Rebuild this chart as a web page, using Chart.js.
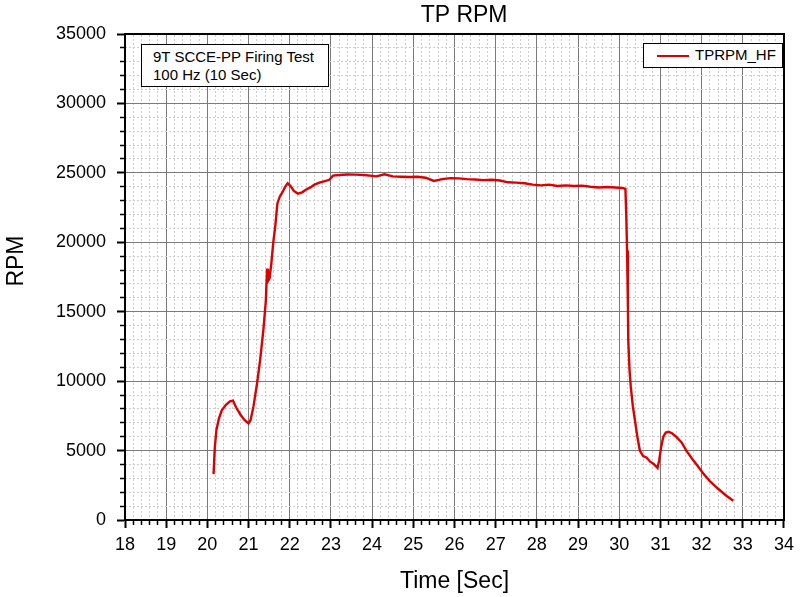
<!DOCTYPE html>
<html>
<head>
<meta charset="utf-8">
<script src="https://cdn.jsdelivr.net/npm/chart.js@4"></script>
<style>
body { margin: 0; background: #fff; }
#wrap { position: relative; width: 800px; height: 597px; font-family: "Liberation Sans", Arial, sans-serif; }
.box { position: absolute; background: #fff; border: 1px solid #000; font-size: 15px; color: #000; box-sizing: border-box; }
#note { left: 141px; top: 44px; width: 188px; height: 43px; padding: 3px 0 0 11px; line-height: 18px; }
#legend { left: 643px; top: 43px; width: 140px; height: 25px; }
#legend .swatch { position: absolute; left: 13px; top: 11px; width: 32px; height: 2px; background: rgb(220, 0, 0); }
#legend .txt { position: absolute; left: 51px; top: 2px; line-height: 18px; }
</style>
</head>
<body>
<div id="wrap">
<canvas id="rpmChart" width="800" height="597"></canvas>
<div class="box" id="note">9T SCCE-PP Firing Test<br>100 Hz (10 Sec)</div>
<div class="box" id="legend"><span class="swatch"></span><span class="txt">TPRPM_HF</span></div>
</div>
<script>
const timeSec = [
    20.15, 20.18, 20.22, 20.28, 20.35, 20.45, 20.55, 20.62, 20.70, 20.80,
    20.90, 21.00, 21.05, 21.12, 21.20, 21.28, 21.36, 21.42, 21.45, 21.47,
    21.51, 21.55, 21.60, 21.65, 21.70, 21.76, 21.83, 21.90, 21.95, 22.02,
    22.10, 22.20, 22.30, 22.40, 22.50, 22.60, 22.72, 22.85, 22.96, 23.05,
    23.2, 23.4, 23.6, 23.8, 24.0, 24.1, 24.3, 24.5, 24.7, 24.9,
    25.1, 25.3, 25.5, 25.7, 25.9, 26.1, 26.3, 26.5, 26.7, 26.9,
    27.1, 27.3, 27.5, 27.7, 27.9, 28.1, 28.3, 28.5, 28.7, 28.9,
    29.1, 29.3, 29.5, 29.7, 29.9, 30.1, 30.15, 30.17, 30.19, 30.21,
    30.22, 30.25, 30.28, 30.33, 30.38, 30.44, 30.50, 30.58, 30.66, 30.75,
    30.83, 30.90, 30.93, 30.97, 31.02, 31.07, 31.13, 31.20, 31.28, 31.38,
    31.51, 31.63, 31.76, 31.90, 32.04, 32.20, 32.40, 32.60, 32.77
];
const tprpmHF = [
    3300, 5200, 6500, 7300, 7900, 8300, 8550, 8600, 8100, 7600,
    7200, 6950, 7200, 8200, 9700, 11500, 13700, 15800, 18100, 17200,
    17400, 18400, 20000, 21200, 22800, 23300, 23650, 24050, 24250, 24050,
    23700, 23500, 23600, 23800, 23950, 24150, 24300, 24400, 24500, 24800,
    24850, 24880, 24870, 24850, 24780, 24750, 24900, 24750, 24720, 24700,
    24720, 24650, 24420, 24550, 24620, 24600, 24550, 24520, 24480, 24500,
    24450, 24320, 24300, 24250, 24150, 24100, 24150, 24050, 24100, 24050,
    24080, 24000, 23950, 23980, 23950, 23900, 23850, 22000, 19400, 15500,
    12900, 10800, 9600, 8200, 7200, 6000, 5000, 4600, 4500, 4200,
    4050, 3850, 3750, 4300, 5300, 6000, 6300, 6350, 6250, 6000,
    5600, 5000, 4450, 3900, 3350, 2800, 2250, 1750, 1380
];
const xMajor = 1, xMinor = 0.2;
const yMajor = 5000, yMinor = 1000;

Chart.defaults.font.family = '"Liberation Sans", Arial, sans-serif';
Chart.defaults.color = '#000';

function onStep(v, step) {
    return Math.abs(v / step - Math.round(v / step)) < 1e-6;
}

const majorGrid = '#7a7a7a';
const minorGrid = '#cdcdcd';
const points = timeSec.map((t, i) => ({ x: t, y: tprpmHF[i] }));

new Chart(document.getElementById('rpmChart'), {
    type: 'line',
    data: {
        datasets: [{
            label: 'TPRPM_HF',
            data: points,
            borderColor: 'rgb(220, 0, 0)',
            borderWidth: 2.4,
            pointRadius: 0,
            tension: 0,
            fill: false
        }]
    },
    options: {
        responsive: false,
        animation: false,
        layout: { padding: 0 },
        plugins: { legend: { display: false }, tooltip: { enabled: false } },
        scales: {
            x: {
                type: 'linear', position: 'bottom', min: 18, max: 34,
                ticks: {
                    stepSize: xMinor, autoSkip: false, maxRotation: 0, padding: 6,
                    font: { size: 18 },
                    callback: v => onStep(v, xMajor) ? Math.round(v) : ''
                },
                grid: {
                    color: c => onStep(c.tick.value, xMajor) ? majorGrid : 'rgba(0,0,0,0)',
                    tickColor: '#000', tickLength: 8,
                    tickWidth: c => onStep(c.tick.value, xMajor) ? 2 : 1.5,
                    tickBorderDash: c => onStep(c.tick.value, xMajor) ? [] : [4, 20]
                },
                border: { color: '#000', width: 2 },
                title: { display: true, text: 'Time [Sec]', font: { size: 23 }, padding: { top: 2, bottom: 2 } },
                afterFit: s => { s.height = 77; }
            },
            xTop: {
                type: 'linear', position: 'top', min: 18, max: 34,
                ticks: { display: false, stepSize: xMinor, autoSkip: false },
                grid: {
                    color: c => onStep(c.tick.value, xMajor) ? 'rgba(0,0,0,0)' : minorGrid,
                    drawTicks: false
                },
                border: { color: '#000', width: 2, dash: [2, 2] },
                title: { display: true, text: '   TP RPM', font: { size: 23 }, padding: { top: 2, bottom: 0 } },
                afterFit: s => { s.height = 34; }
            },
            y: {
                position: 'left', min: 0, max: 35000,
                ticks: {
                    stepSize: yMinor, autoSkip: false, padding: 11,
                    font: { size: 18 },
                    callback: v => onStep(v, yMajor) ? v : ''
                },
                grid: {
                    color: c => onStep(c.tick.value, yMajor) ? majorGrid : 'rgba(0,0,0,0)',
                    tickColor: '#000', tickLength: 8,
                    tickWidth: c => onStep(c.tick.value, yMajor) ? 2 : 1.5,
                    tickBorderDash: c => onStep(c.tick.value, yMajor) ? [] : [0, 3, 10]
                },
                border: { color: '#000', width: 2 },
                title: { display: true, text: '     RPM', font: { size: 23 }, padding: { top: 3, bottom: 0 } },
                afterFit: s => { s.width = 125; }
            },
            yRight: {
                position: 'right', min: 0, max: 35000,
                ticks: { display: false, stepSize: yMinor, autoSkip: false },
                grid: {
                    color: c => onStep(c.tick.value, yMajor) ? 'rgba(0,0,0,0)' : minorGrid,
                    drawTicks: false
                },
                border: { color: '#000', width: 2, dash: [2, 2] },
                afterFit: s => { s.width = 14; }
            }
        }
    }
});
</script>
</body>
</html>
